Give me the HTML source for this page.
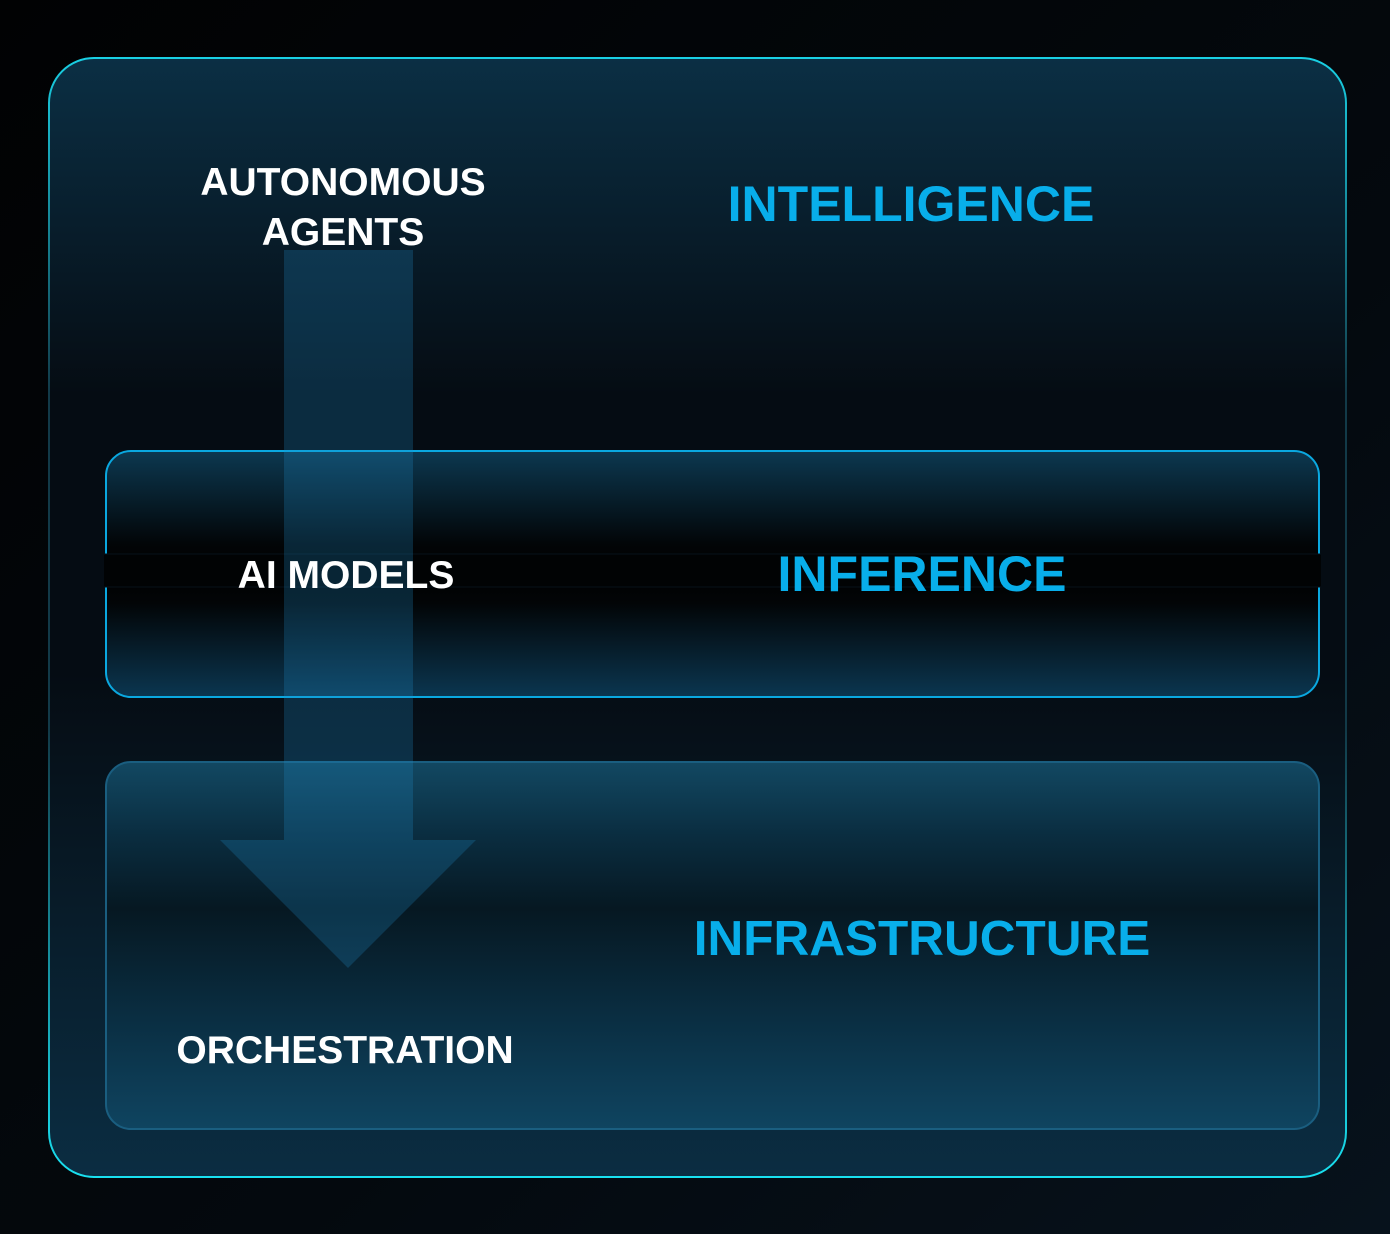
<!DOCTYPE html>
<html><head><meta charset="utf-8"><style>
html,body{margin:0;padding:0;background:#020508;}
svg{display:block}
text{font-family:"Liberation Sans",Arial,sans-serif;font-weight:bold;}
</style></head><body>
<svg width="1390" height="1234" viewBox="0 0 1390 1234" xmlns="http://www.w3.org/2000/svg">
<defs>
<linearGradient id="bg" x1="0" y1="0" x2="1" y2="1">
<stop offset="0" stop-color="#010203"/><stop offset="0.6" stop-color="#04090e"/><stop offset="1" stop-color="#07121c"/>
</linearGradient>
<linearGradient id="outer" x1="0" y1="0" x2="0" y2="1">
<stop offset="0" stop-color="#0b2f44"/><stop offset="0.3" stop-color="#050c13"/><stop offset="0.55" stop-color="#050c13"/><stop offset="1" stop-color="#0b2d42"/>
</linearGradient>
<linearGradient id="outerStroke" x1="0" y1="0" x2="0" y2="1">
<stop offset="0" stop-color="#19d0e4"/><stop offset="0.3" stop-color="#123a48"/><stop offset="0.6" stop-color="#123a48"/><stop offset="1" stop-color="#19e0f0"/>
</linearGradient>
<linearGradient id="inf" x1="0" y1="0" x2="0" y2="1">
<stop offset="0" stop-color="#0c3850"/><stop offset="0.38" stop-color="#020507"/><stop offset="0.5" stop-color="#000000"/><stop offset="0.62" stop-color="#020507"/><stop offset="1" stop-color="#0b3650"/>
</linearGradient>
<linearGradient id="infra" x1="0" y1="0" x2="0" y2="1">
<stop offset="0" stop-color="#124862"/><stop offset="0.2" stop-color="#0a2d40"/><stop offset="0.4" stop-color="#061822"/><stop offset="0.7" stop-color="#0a2e42"/><stop offset="1" stop-color="#0f4460"/>
</linearGradient>
</defs>
<rect width="1390" height="1234" fill="url(#bg)"/>
<rect x="49" y="58" width="1297" height="1119" rx="45" fill="url(#outer)" stroke="url(#outerStroke)" stroke-width="2"/>
<rect x="106" y="451" width="1213" height="246" rx="25" fill="url(#inf)" stroke="#0aa8e0" stroke-width="2"/>
<rect x="104" y="554" width="1217" height="33" fill="#010304"/>
<line x1="104" y1="554" x2="1321" y2="554" stroke="#06121a" stroke-width="1"/>
<line x1="104" y1="587" x2="1321" y2="587" stroke="#06121a" stroke-width="1"/>
<rect x="106" y="762" width="1213" height="367" rx="25" fill="url(#infra)" stroke="#1a5e80" stroke-width="2"/>
<path d="M284 250 H413 V840 H476 L348 968 L220 840 H284 Z" fill="#1f8cc8" fill-opacity="0.25"/>
<text x="343" y="195" font-size="39" fill="#fff" text-anchor="middle">AUTONOMOUS</text>
<text x="343" y="245" font-size="39" fill="#fff" text-anchor="middle">AGENTS</text>
<text x="911" y="221" font-size="50" fill="#08aeea" text-anchor="middle">INTELLIGENCE</text>
<text x="346" y="588" font-size="39" fill="#fff" text-anchor="middle">AI MODELS</text>
<text x="922" y="591" font-size="50" fill="#08aeea" text-anchor="middle">INFERENCE</text>
<text x="922" y="955" font-size="49.5" fill="#08aeea" text-anchor="middle">INFRASTRUCTURE</text>
<text x="345" y="1063" font-size="39" fill="#fff" text-anchor="middle">ORCHESTRATION</text>
</svg>
</body></html>
